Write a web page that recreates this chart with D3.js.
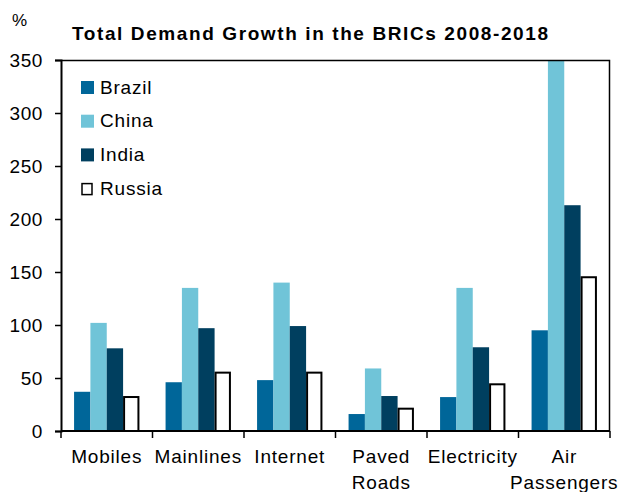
<!DOCTYPE html>
<html>
<head>
<meta charset="utf-8">
<script src="https://cdn.jsdelivr.net/npm/d3@7"></script>
<style>
  html, body { margin: 0; padding: 0; background: #fff; }
  svg { display: block; font-family: "Liberation Sans", Arial, sans-serif; }
</style>
</head>
<body>
<svg id="chart" width="620" height="492"></svg>
<script>
// Total demand growth, 2008-2018, % by sector and country
const categories = ["Mobiles", "Mainlines", "Internet", "Paved Roads", "Electricity", "Air Passengers"];
const countries = ["Brazil", "China", "India", "Russia"];
const brazil = [37, 46, 48, 16, 32, 95];
const china  = [102, 135, 140, 59, 135, 390];
const india  = [78, 97, 99, 33, 79, 213];
const russia = [33, 56, 56, 22, 45, 146];
const yTicks = [0, 50, 100, 150, 200, 250, 300, 350];

const seriesValues = [brazil, china, india, russia];
const colors = ["#006699", "#70C4D8", "#003F5F", "#FFFFFF"];

const margin = { top: 60, right: 10, bottom: 61, left: 61 };
const W = 620, H = 492;
const innerW = W - margin.left - margin.right;
const innerH = H - margin.top - margin.bottom;

const svg = d3.select("#chart");
const g = svg.append("g").attr("transform", `translate(${margin.left},${margin.top})`);

const x0 = d3.scaleBand().domain(categories).range([0, innerW]).padding(0);
const x1 = d3.scaleBand().domain(countries).range([0, x0.bandwidth()])
  .paddingInner(0).paddingOuter(0.8);
const y = d3.scaleLinear().domain([0, 350]).range([innerH, 0]);

// clip so the tallest bar stops at the frame
svg.append("defs").append("clipPath").attr("id", "plotClip")
  .append("rect").attr("width", innerW).attr("height", innerH);

const bars = g.append("g").attr("clip-path", "url(#plotClip)");
categories.forEach((cat, ci) => {
  countries.forEach((c, si) => {
    const v = seriesValues[si][ci];
    const isRussia = c === "Russia";
    const bx = x0(cat) + x1(c);
    bars.append("rect")
      .attr("x", isRussia ? bx + 1 : bx)
      .attr("y", y(v) + (isRussia ? 1 : 0))
      .attr("width", isRussia ? x1.bandwidth() - 2 : x1.bandwidth())
      .attr("height", Math.max(0, y(0) - y(v) - (isRussia ? 1 : 0)))
      .attr("fill", colors[si])
      .attr("stroke", isRussia ? "#000" : "none")
      .attr("stroke-width", isRussia ? 2 : 0);
  });
});

// frame: top and right edges
g.append("path")
  .attr("d", `M0,0.5H${innerW - 0.5}V${innerH}`)
  .attr("fill", "none").attr("stroke", "#000").attr("stroke-width", 1.5);

// y axis
const yAxis = g.append("g")
  .call(d3.axisLeft(y).tickValues(yTicks).tickSize(6).tickPadding(12).tickFormat(d3.format("d")));
yAxis.select(".domain").attr("stroke-width", 2);
yAxis.selectAll(".tick line").attr("stroke-width", 1.5);
yAxis.selectAll("text").attr("font-size", 19).attr("letter-spacing", 0.6).attr("fill", "#000");

// x axis with ticks at group boundaries
const xAxis = g.append("g").attr("transform", `translate(0,${innerH})`);
xAxis.append("line").attr("x1", 0).attr("x2", innerW).attr("stroke", "#000").attr("stroke-width", 2);
const bounds = categories.map(c => x0(c)).concat([innerW]);
xAxis.selectAll("line.tk").data(bounds).enter().append("line")
  .attr("class", "tk")
  .attr("x1", d => d).attr("x2", d => d)
  .attr("y1", 0).attr("y2", 7)
  .attr("stroke", "#000").attr("stroke-width", 1.5);

const labelLines = categories.map(c => {
  if (c === "Paved Roads") return ["Paved", "Roads"];
  if (c === "Air Passengers") return ["Air", "Passengers"];
  return [c];
});
categories.forEach((c, i) => {
  const cx = x0(c) + x0.bandwidth() / 2;
  const t = xAxis.append("text")
    .attr("x", cx)
    .attr("y", 32)
    .attr("text-anchor", "middle")
    .attr("font-size", 19)
    .attr("letter-spacing", 0.8)
    .attr("fill", "#000");
  labelLines[i].forEach((ln, k) => {
    t.append("tspan").attr("x", cx).attr("dy", k === 0 ? 0 : 26).text(ln);
  });
});

// legend
const legend = g.append("g").attr("transform", "translate(20,21)");
countries.forEach((c, i) => {
  const row = legend.append("g").attr("transform", `translate(0,${i * 33.7})`);
  if (c === "Russia") {
    row.append("rect").attr("x", 1).attr("y", 1.5).attr("width", 10).attr("height", 11)
      .attr("fill", "#fff").attr("stroke", "#000").attr("stroke-width", 1.5);
  } else {
    row.append("rect").attr("x", 0).attr("y", 0).attr("width", 13).attr("height", 13)
      .attr("fill", colors[i]);
  }
  row.append("text").attr("x", 19).attr("y", 12.5)
    .attr("font-size", 19).attr("letter-spacing", 0.8).attr("fill", "#000").text(c);
});

// unit and title
svg.append("text").attr("x", 12).attr("y", 26).attr("font-size", 17).attr("fill", "#000").text("%");
svg.append("text").attr("x", 72).attr("y", 40)
  .attr("font-size", 19).attr("font-weight", "bold").attr("letter-spacing", 1.6)
  .attr("fill", "#000").text("Total Demand Growth in the BRICs 2008-2018");
</script>
</body>
</html>
